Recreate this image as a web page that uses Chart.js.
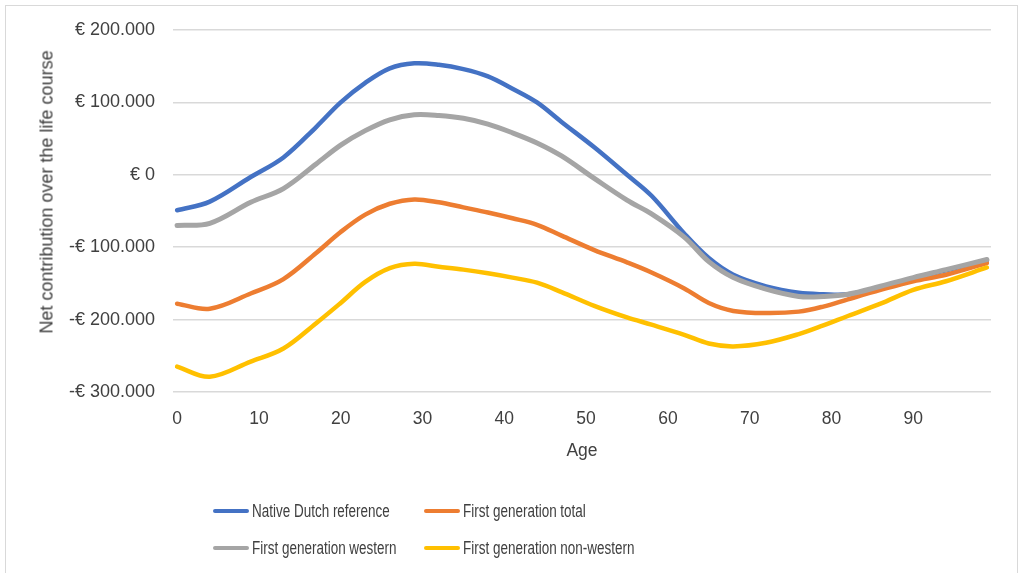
<!DOCTYPE html>
<html>
<head>
<meta charset="utf-8">
<script src="https://cdn.jsdelivr.net/npm/chart.js@4/dist/chart.umd.min.js"></script>
<style>
  html, body { margin: 0; padding: 0; background: #fff; }
  #wrap { position: relative; width: 1024px; height: 573px; overflow: hidden; }
  #frame { position: absolute; left: 5px; top: 5px; width: 1013px; height: 600px; border: 1.5px solid #d9d9d9; box-sizing: border-box; }
  canvas { position: absolute; left: 0; top: 0; }
  .lg { position: absolute; height: 22px; display: flex; align-items: center; font-family: "Liberation Sans", Arial, sans-serif; font-size: 17.5px; color: #404040; white-space: nowrap; }
  .lg span.sw { display: inline-block; width: 36px; height: 4px; border-radius: 2px; margin-right: 3px; }
  .lg span.tx { display: inline-block; transform: scaleX(0.77); transform-origin: left center; }
  #ytitle { position: absolute; left: 47px; top: 192px; transform: translate(-50%, -50%) rotate(-90deg); font-family: "Liberation Sans", Arial, sans-serif; font-size: 18px; color: #404040; white-space: nowrap; }
</style>
</head>
<body>
<div id="wrap">
  <div id="frame"></div>
  <canvas id="c" width="1024" height="573"></canvas>
  <div id="ytitle">Net contribution over the life course</div>
  <div id="legend"></div>
</div>
<script>
// ---- data ----
const ages = [0, 4, 9, 13, 17, 20, 23, 26, 29, 32, 35, 38, 41, 44, 47, 51, 55, 58, 62, 65, 68, 72, 76, 79, 82, 86, 90, 94, 99];
const nativeDutch = [-49000, -37000, -3000, 24000, 66000, 100000, 127000, 147000, 154000, 152000, 146000, 136000, 119000, 100000, 73000, 38000, 0, -29000, -81000, -115000, -138000, -154000, -163000, -165000, -165000, -155000, -143000, -132000, -118000];
const firstGenTotal = [-178000, -185000, -164000, -144000, -108000, -79000, -55000, -40000, -34000, -38000, -45000, -52000, -60000, -69000, -84000, -104000, -121000, -135000, -157000, -177000, -188000, -191000, -189000, -182000, -172000, -159000, -147000, -138000, -122000];
const firstGenWestern = [-70000, -67000, -38000, -19000, 15000, 41000, 61000, 76000, 83000, 82000, 78000, 70000, 58000, 44000, 26000, -5000, -35000, -54000, -86000, -120000, -142000, -158000, -168000, -168000, -165000, -154000, -142000, -131000, -117000];
const firstGenNonWestern = [-265000, -279000, -258000, -240000, -205000, -177000, -148000, -129000, -123000, -127000, -131000, -136000, -142000, -149000, -162000, -181000, -197000, -207000, -221000, -233000, -237000, -232000, -220000, -208000, -195000, -178000, -159000, -147000, -128000];
const seriesNames = ["Native Dutch reference", "First generation total", "First generation western", "First generation non-western"];
const seriesColors = ["#4472C4", "#ED7D31", "#A5A5A5", "#FFC000"];
const xTickValues = [0, 10, 20, 30, 40, 50, 60, 70, 80, 90];
const yTickValues = [-300000, -200000, -100000, 0, 100000, 200000];

const seriesValues = [nativeDutch, firstGenTotal, firstGenWestern, firstGenNonWestern];
const drawOrder = [4, 3, 2, 1]; // later Excel series drawn on top

function eur(v) {
  const abs = Math.abs(v).toLocaleString('de-DE');
  return (v < 0 ? '-€ ' : '€ ') + abs;
}

const datasets = seriesValues.map((vals, i) => ({
  label: seriesNames[i],
  data: ages.map((a, j) => ({ x: a, y: vals[j] })),
  borderColor: seriesColors[i],
  backgroundColor: seriesColors[i],
  borderWidth: i === 2 ? 5 : 4.5,
  pointRadius: 0,
  tension: 0.35,
  fill: false,
  order: drawOrder[i],
  borderCapStyle: 'round'
}));

Chart.defaults.font.family = '"Liberation Sans", Arial, sans-serif';
Chart.defaults.color = '#404040';

new Chart(document.getElementById('c'), {
  type: 'line',
  data: { datasets },
  options: {
    responsive: false,
    animation: false,
    devicePixelRatio: 1,
    layout: { padding: { top: 30, right: 33, left: 0, bottom: 0 } },
    plugins: { legend: { display: false }, tooltip: { enabled: false } },
    scales: {
      x: {
        type: 'linear',
        min: -0.5,
        max: 99.5,
        afterBuildTicks: (axis) => { axis.ticks = xTickValues.map(v => ({ value: v })); },
        afterFit: (axis) => { axis.height = 181; },
        grid: { display: false, drawTicks: false },
        border: { display: false },
        ticks: { font: { size: 17.5 }, color: '#404040', padding: 17, maxRotation: 0, autoSkip: false },
        title: { display: true, text: 'Age', font: { size: 17.5 }, color: '#404040', padding: { top: 0, bottom: 111 } }
      },
      y: {
        min: -300000,
        max: 200000,
        afterBuildTicks: (axis) => { axis.ticks = yTickValues.map(v => ({ value: v })); },
        afterFit: (axis) => { axis.width = 173; },
        grid: { color: '#d9d9d9', lineWidth: 1.5, drawTicks: false },
        border: { display: false },
        ticks: { font: { size: 18 }, color: '#404040', padding: 18, callback: (v) => eur(v) },
        title: { display: false }
      }
    }
  }
});

// HTML legend laid out as a 2x2 grid like the reference
const legendPos = [[213, 500], [424, 500], [213, 537], [424, 537]];
const lg = document.getElementById('legend');
seriesNames.forEach((name, i) => {
  const d = document.createElement('div');
  d.className = 'lg';
  d.style.left = legendPos[i][0] + 'px';
  d.style.top = legendPos[i][1] + 'px';
  d.innerHTML = '<span class="sw" style="background:' + seriesColors[i] + '"></span><span class="tx">' + name + '</span>';
  lg.appendChild(d);
});
</script>
</body>
</html>
